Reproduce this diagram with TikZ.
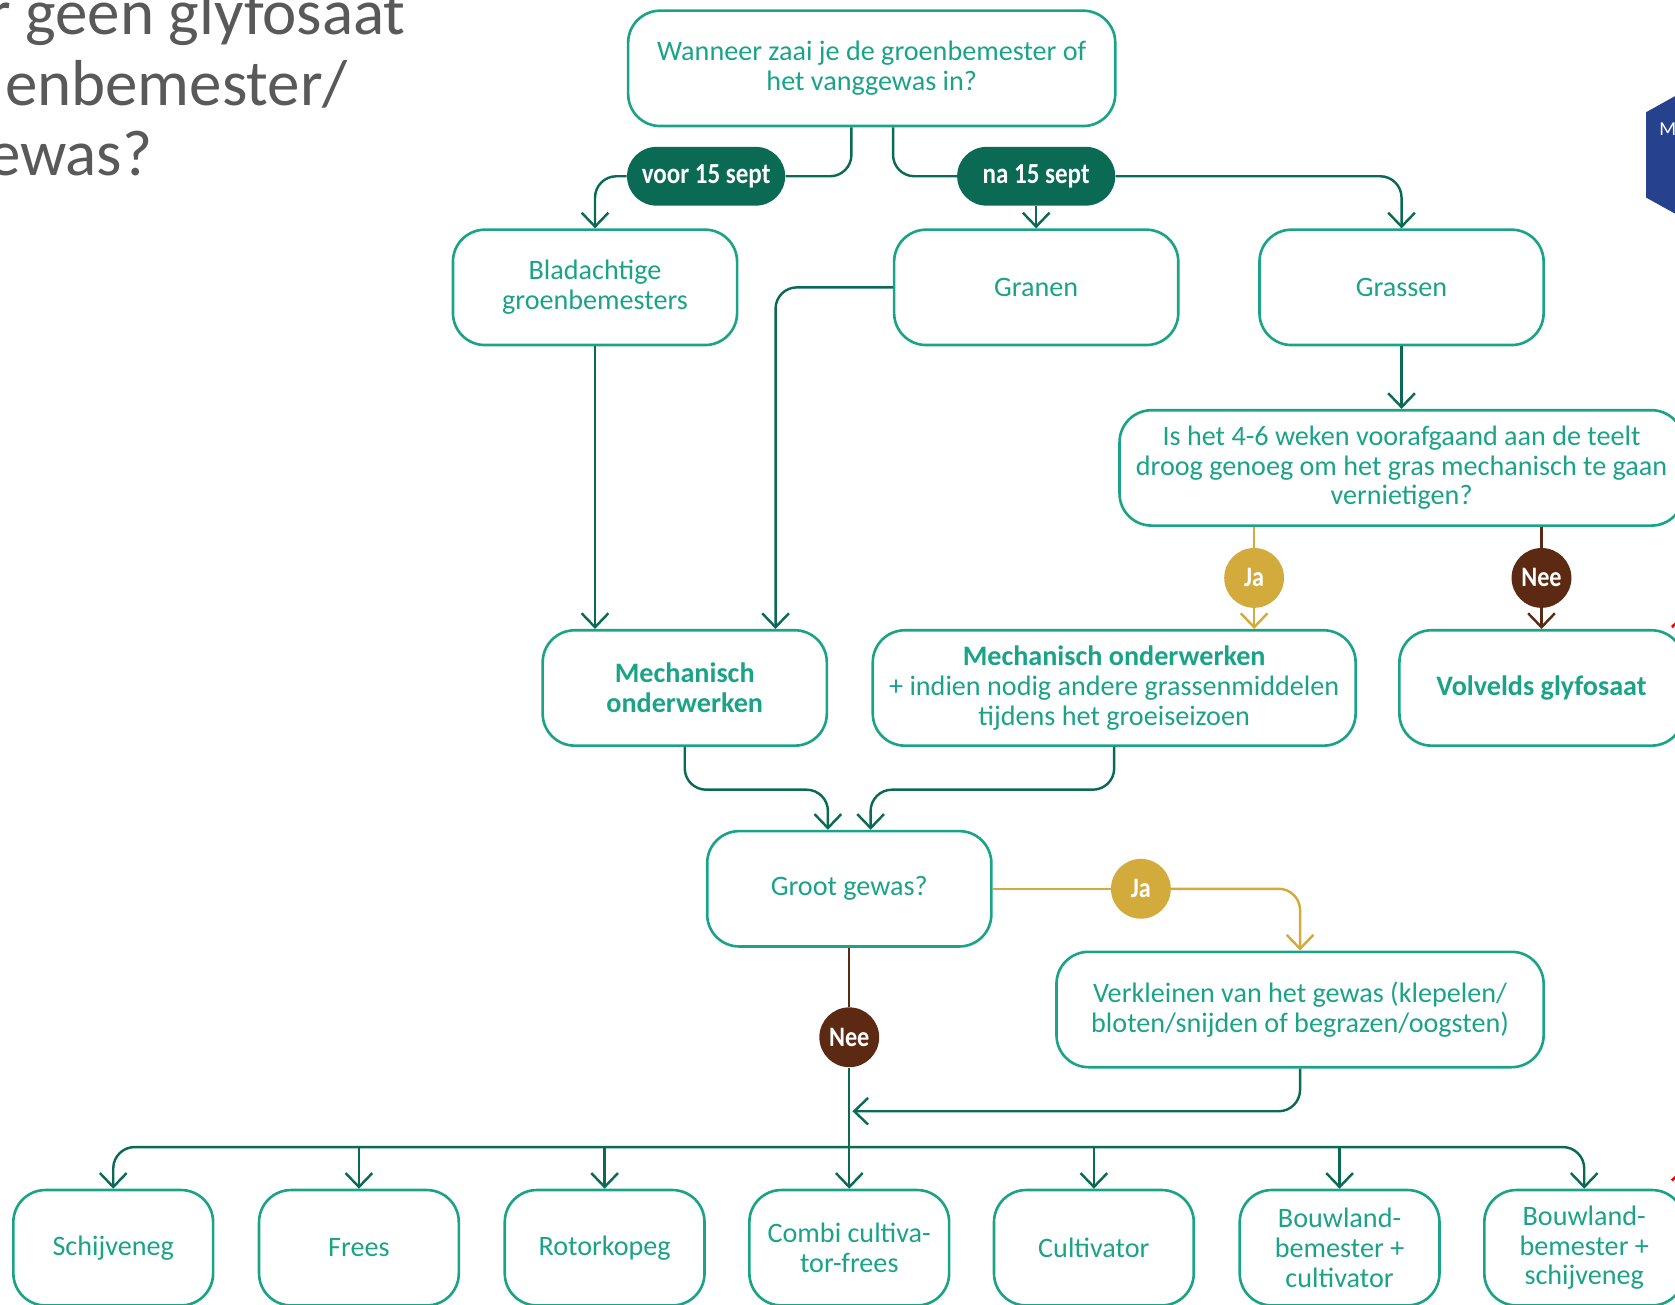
\documentclass[tikz,border=0pt]{standalone}
\usepackage{fontspec}
\setmainfont{Carlito}
\newfontfamily\condfont[FakeStretch=0.86]{Carlito}
\usetikzlibrary{positioning, arrows.meta}

\definecolor{boxteal}{RGB}{27,163,136}
\definecolor{linegreen}{RGB}{10,106,84}
\definecolor{jagold}{RGB}{211,170,60}
\definecolor{neebrown}{RGB}{92,42,18}
\definecolor{titlegray}{RGB}{89,89,89}
\definecolor{logoblue}{RGB}{38,66,142}

\tikzset{
  box/.style = {draw=boxteal, line width=1.4pt, rounded corners=0.6cm, minimum width=5.32cm,
    minimum height=2.16cm, align=center, text=boxteal, inner sep=2pt,
    font=\fontsize{15}{15.8}\selectfont},
  widebox/.style = {box, minimum width=9.12cm},
  toolbox/.style = {box, minimum width=3.74cm},
  pill/.style = {fill=linegreen, rounded corners=0.55cm, minimum width=2.96cm, minimum height=1.1cm,
    text=white, font=\condfont\bfseries\fontsize{15.5}{17}\selectfont},
  answer/.style = {circle, minimum size=1.12cm, inner sep=0pt, text=white,
    font=\condfont\bfseries\fontsize{15}{17}\selectfont},
  ja/.style = {answer, fill=jagold},
  nee/.style = {answer, fill=neebrown},
  conn/.style = {draw=linegreen, line width=1.3pt, rounded corners=0.4cm},
  flow/.style = {conn, -{Straight Barb[length=0.26cm, width=0.5cm]}},
  title/.style = {text=titlegray, font=\fontsize{34.6}{40}\selectfont, inner sep=0pt, anchor=base east}
}

\begin{document}
\begin{tikzpicture}[node distance = 2cm, on grid]
  \useasboundingbox (0,0) rectangle (31.36,-24.42);

  \node[title] (t1) at (7.60,-0.64) {r geen glyfosaat};
  \node[title] (t2) at (6.52,-1.97) {enbemester/};
  \node[title] (t3) at (2.86,-3.28) {ewas?};
  \fill[logoblue] (30.82,-2.10) -- (31.9,-1.50) -- (31.9,-4.30) -- (30.82,-3.70) -- cycle;
  \node[text=white, font=\fontsize{10.5}{12}\selectfont, anchor=west, inner sep=0pt] (logo) at (31.06,-2.42) {M};
  \draw[red, line width=1.4pt] (31.30,-11.74) -- (31.50,-11.56);
  \draw[red, line width=1.4pt] (31.30,-22.10) -- (31.50,-21.92);

  \node[widebox] (Q) at (16.32,-1.28) {Wanneer zaai je de groenbemester of\\het vanggewas in?};
  \node[pill] (voor) [below left=2.02cm and 3.10cm of Q] {voor 15 sept};
  \node[pill] (na) [right=6.18cm of voor] {na 15 sept};
  \node[box] (blad) [below left=2.08cm and 2.08cm of voor] {Bladachtige\\groenbemesters};
  \node[box] (granen) [below=2.08cm of na] {Granen};
  \node[box] (grassen) [right=6.84cm of granen] {Grassen};
  \node[box, minimum width=10.56cm] (droog) [below=3.38cm of grassen]
    {Is het 4-6 weken voorafgaand aan de teelt\\droog genoeg om het gras mechanisch te gaan\\vernietigen?};
  \node[ja] (ja1) [below left=2.06cm and 2.76cm of droog] {Ja};
  \node[nee] (nee1) [right=5.38cm of ja1] {Nee};
  \node[widebox, minimum width=9.04cm] (mech2) [below left=2.06cm and 2.62cm of ja1]
    {\textbf{Mechanisch onderwerken}\\+ indien nodig andere grassenmiddelen\\tijdens het groeiseizoen};
  \node[box] (volv) [below=2.06cm of nee1] {\textbf{Volvelds glyfosaat}};
  \node[box] (mech1) [left=8.04cm of mech2] {\textbf{Mechanisch}\\\textbf{onderwerken}};
  \node[box] (groot) [below right=3.76cm and 3.08cm of mech1] {Groot gewas?};
  \node[ja] (ja2) [right=5.46cm of groot] {Ja};
  \node[widebox] (verkl) [below right=2.26cm and 2.98cm of ja2]
    {Verkleinen van het gewas (klepelen/\\bloten/snijden of begrazen/oogsten)};
  \node[nee] (nee2) [below=2.78cm of groot] {Nee};

  \node[toolbox] (combi) [below=6.72cm of groot] {Combi cultiva-\\tor-frees};
  \node[toolbox] (rotor) [left=4.58cm of combi] {Rotorkopeg};
  \node[toolbox] (frees) [left=4.60cm of rotor] {Frees};
  \node[toolbox] (schijf) [left=4.60cm of frees] {Schijveneg};
  \node[toolbox] (cult) [right=4.58cm of combi] {Cultivator};
  \node[toolbox] (bouw1) [right=4.60cm of cult] {Bouwland-\\bemester +\\cultivator};
  \node[toolbox] (bouw2) [right=4.58cm of bouw1] {Bouwland-\\bemester +\\schijveneg};
  \coordinate (bus) at ([yshift=0.78cm]combi.north);

  \draw[conn] ([xshift=-0.38cm]Q.south) |- (voor.east);
  \draw[flow] (voor.west) -| (blad.north);
  \draw[conn] ([xshift=0.40cm]Q.south) |- (na.west);
  \draw[flow] (na.east) -| (grassen.north);
  \draw[flow] (na.south) -- (na.south |- granen.north);
  \draw[flow] (blad.south) -- (blad.south |- mech1.north);
  \draw[flow] (granen.west) -| ([xshift=1.70cm]mech1.north);
  \draw[flow] (grassen.south) -- (droog.north);
  \draw[conn, draw=jagold] (droog.south -| ja1) -- (ja1.north);
  \draw[flow, draw=jagold] (ja1.south) -- (ja1.south |- mech2.north);
  \draw[conn, draw=neebrown] (droog.south -| nee1) -- (nee1.north);
  \draw[flow, draw=neebrown] (nee1.south) -- (volv.north);
  \draw[flow] (mech1.south) -- ++(0,-0.8) -| ([xshift=-0.40cm]groot.north);
  \draw[flow] (mech2.south) -- ++(0,-0.8) -| ([xshift=0.40cm]groot.north);
  \draw[conn, draw=jagold] (groot.east) -- (ja2.west);
  \draw[flow, draw=jagold] (ja2.east) -| (verkl.north);
  \draw[conn, draw=neebrown] (groot.south) -- (nee2.north);
  \draw[flow] (nee2.south) -- (combi.north);
  \draw[flow] (verkl.south) |- ([xshift=0.06cm, yshift=-0.8cm]verkl.south -| nee2);
  \draw[flow] (bus) -| (schijf.north);
  \draw[flow] (bus) -| (bouw2.north);
  \foreach \n in {frees, rotor, cult, bouw1}
    \draw[flow] (bus -| \n.north) -- (\n.north);
\end{tikzpicture}
\end{document}
